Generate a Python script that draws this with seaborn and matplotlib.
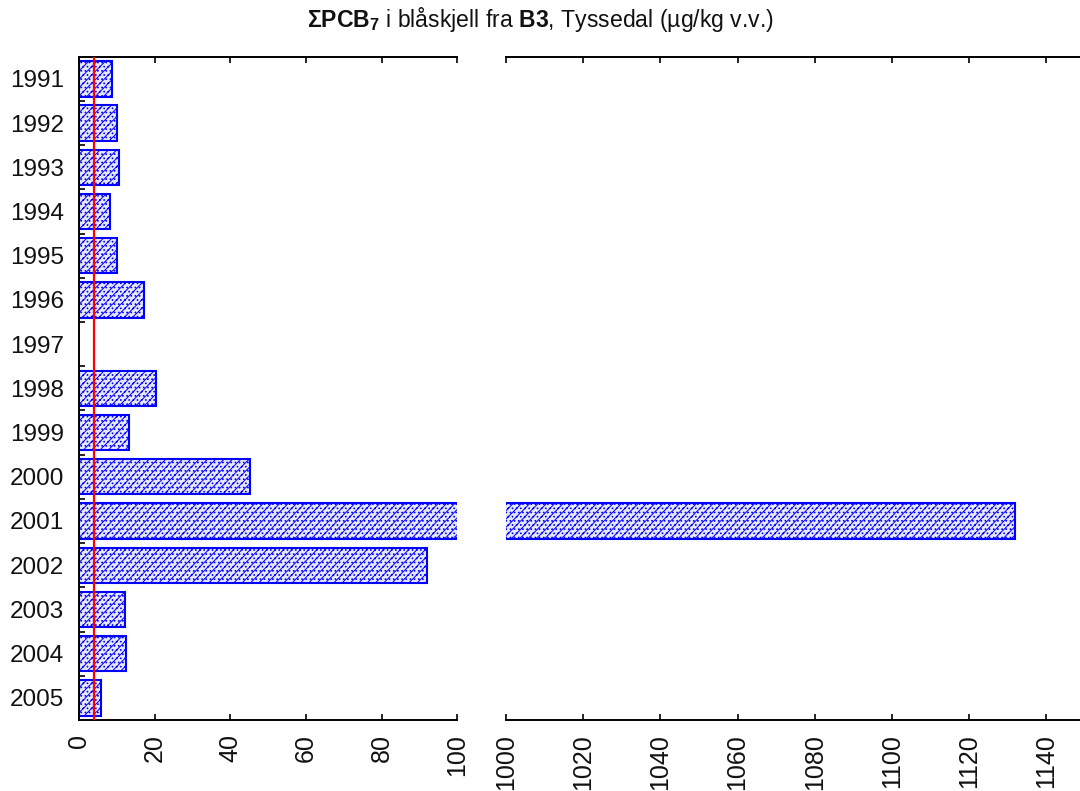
import numpy as np
import pandas as pd
import matplotlib
matplotlib.use("Agg")
import matplotlib.pyplot as plt
import seaborn as sns

# Sum PCB7 in blue mussel, station B3 Tyssedal (µg/kg wet weight)
years = ["1991", "1992", "1993", "1994", "1995", "1996", "1997", "1998",
         "1999", "2000", "2001", "2002", "2003", "2004", "2005"]
values = [8.7, 10.1, 10.6, 8.2, 10.0, 17.2, np.nan, 20.3,
          13.2, 45.1, 1132.0, 91.9, 12.1, 12.4, 5.8]
reference_level = 4.0

left_ticks = [0, 20, 40, 60, 80, 100]
right_ticks = [1000, 1020, 1040, 1060, 1080, 1100, 1120, 1140]

sns.set_theme(style="white")
plt.rcParams["font.family"] = ["Liberation Sans", "DejaVu Sans"]
plt.rcParams["mathtext.fontset"] = "custom"
plt.rcParams["mathtext.rm"] = "Liberation Sans"
plt.rcParams["mathtext.bf"] = "Liberation Sans:bold"
plt.rcParams["mathtext.it"] = "Liberation Sans:italic"
plt.rcParams["hatch.color"] = "#0000ff"
plt.rcParams["hatch.linewidth"] = 0.7

df = pd.DataFrame({"year": years, "value": values}).dropna()

fig = plt.figure(figsize=(10.8, 7.91), dpi=100)
ax_l = fig.add_axes([0.0733, 0.0898, 0.3501, 0.8385])
ax_r = fig.add_axes([0.4685, 0.0898, 0.5361, 0.8385])

bar_kw = dict(data=df, x="value", y="year", order=years, orient="h",
              color="#e4e4ff", edgecolor="#0000ff", linewidth=1.5,
              width=0.8, errorbar=None, hatch="////....")
sns.barplot(ax=ax_l, **bar_kw)
sns.barplot(ax=ax_r, **bar_kw)

ax_l.axvline(reference_level, color="#ff0000", lw=1.6, zorder=5)

ax_l.set_xlim(0, 100)
ax_r.set_xlim(1000, 1150)
for ax in (ax_l, ax_r):
    ax.set_ylim(len(years) - 0.5, -0.5)
    ax.set_xlabel("")
    ax.set_ylabel("")
    ax.spines["right"].set_visible(False)
    for s in ("top", "bottom", "left"):
        ax.spines[s].set_linewidth(1.4)
        ax.spines[s].set_color("black")

ax_r.spines["left"].set_visible(False)

ax_l.set_xticks(left_ticks)
ax_r.set_xticks(right_ticks)
for ax in (ax_l, ax_r):
    ax.tick_params(axis="x", which="major", direction="in", length=4, width=1.2,
                   color="black", top=True, bottom=True, labeltop=False,
                   labelsize=18, labelrotation=90, pad=10, labelcolor="#111111")

# year labels without ticks, small marks between categories
ax_l.tick_params(axis="y", which="major", length=0, labelsize=17.5, pad=11,
                 labelcolor="#111111")
ax_l.set_yticks(np.arange(0.5, len(years) - 1, 1.0), minor=True)
ax_l.tick_params(axis="y", which="minor", direction="in", length=4, width=1.2,
                 color="black", left=True)
ax_r.set_yticks([])

fig.text(0.5, 1 - 20 / 791,
         r"$\mathbf{ΣPCB_7}$ i blåskjell fra $\mathbf{B3}$, Tyssedal (µg/kg v.v.)",
         ha="center", va="center", fontsize=16.6, color="#111111")

fig.savefig("out.png", dpi=100)
